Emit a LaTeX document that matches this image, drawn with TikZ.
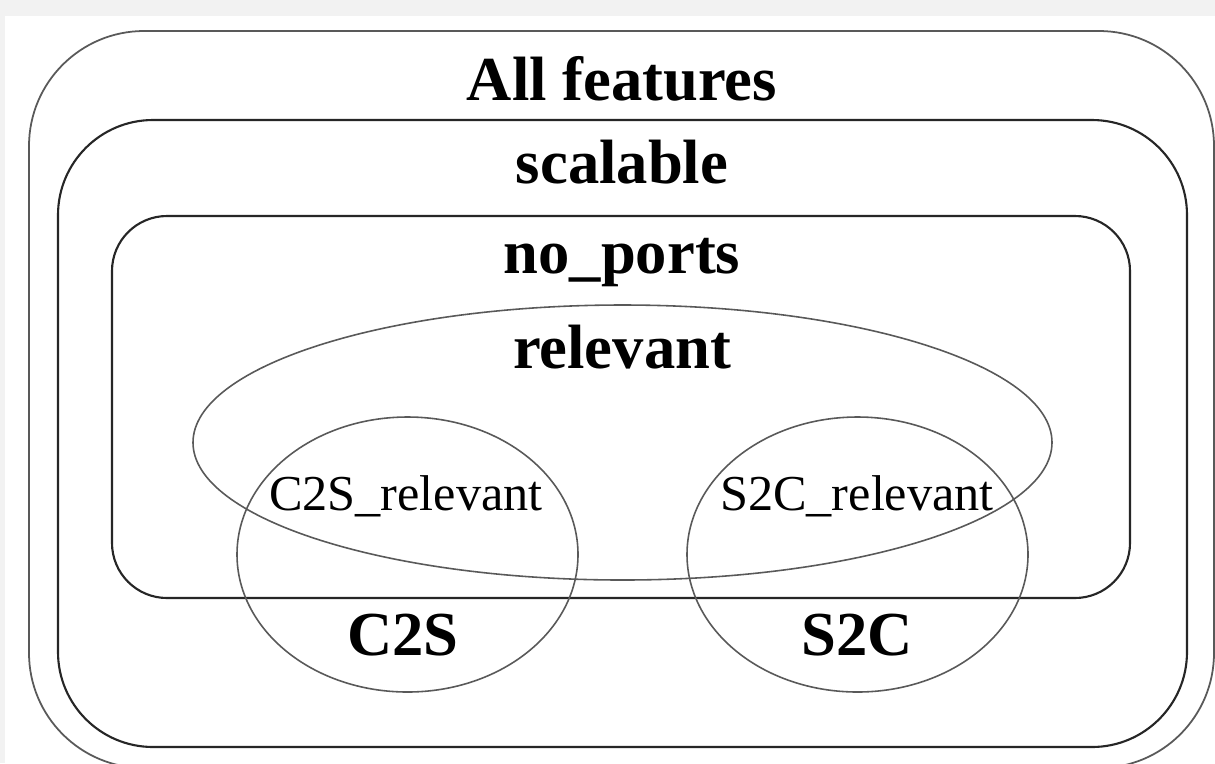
\documentclass[tikz,border=0pt]{standalone}
\usepackage{fontspec}
\setmainfont{Liberation Serif}
\tikzset{
	setname/.style={font=\bfseries\fontsize{17.8}{20}\selectfont, anchor=base, inner sep=0pt},
	subname/.style={font=\fontsize{14.3}{16}\selectfont, anchor=base, inner sep=0pt}
}

\begin{document}
\begin{tikzpicture}[x=0.01cm, y=-0.01cm]
			%%%%% START %%%%%
			
			\useasboundingbox (0, 0) rectangle (1215, 763);
			\fill[black!5] (0, 0) rectangle (1215, 763);
			\fill[white] (5, 16) rectangle (1215, 763);
			
			\draw[line width=0.5pt, color=black!65, rounded corners=1.15cm] (29, 31) rectangle (1214, 768);
			\draw[line width=0.6pt, color=black!85, rounded corners=0.95cm] (58, 120) rectangle (1187, 747);
			\draw[line width=0.6pt, color=black!85, rounded corners=0.55cm] (112, 216) rectangle (1130, 598);
			
			\draw[line width=0.45pt, color=black!65] (622.5, 442.5) ellipse (429.5 and 137.5);
			\draw[line width=0.45pt, color=black!65] (407.5, 554.5) ellipse (170.5 and 137.5);
			\draw[line width=0.45pt, color=black!65] (857.5, 554.5) ellipse (170.5 and 137.5);
			
			\node[setname] (allfeat) at (622, 100) {All features};
			\node[setname] (scal) at (622, 183) {scalable};
			\node[setname] (noports) at (622, 273) {no\_ports};
			\node[setname] (relev) at (622, 368) {relevant};
			
			\node[subname] (ctosrel) at (406, 510) {C2S\_relevant};
			\node[subname] (stocrel) at (857, 510) {S2C\_relevant};
			
			\node[setname] (ctos) at (403, 655) {C2S};
			\node[setname] (stoc) at (857, 655) {S2C};
			
			%%%%% END %%%%%
		\end{tikzpicture}
\end{document}
